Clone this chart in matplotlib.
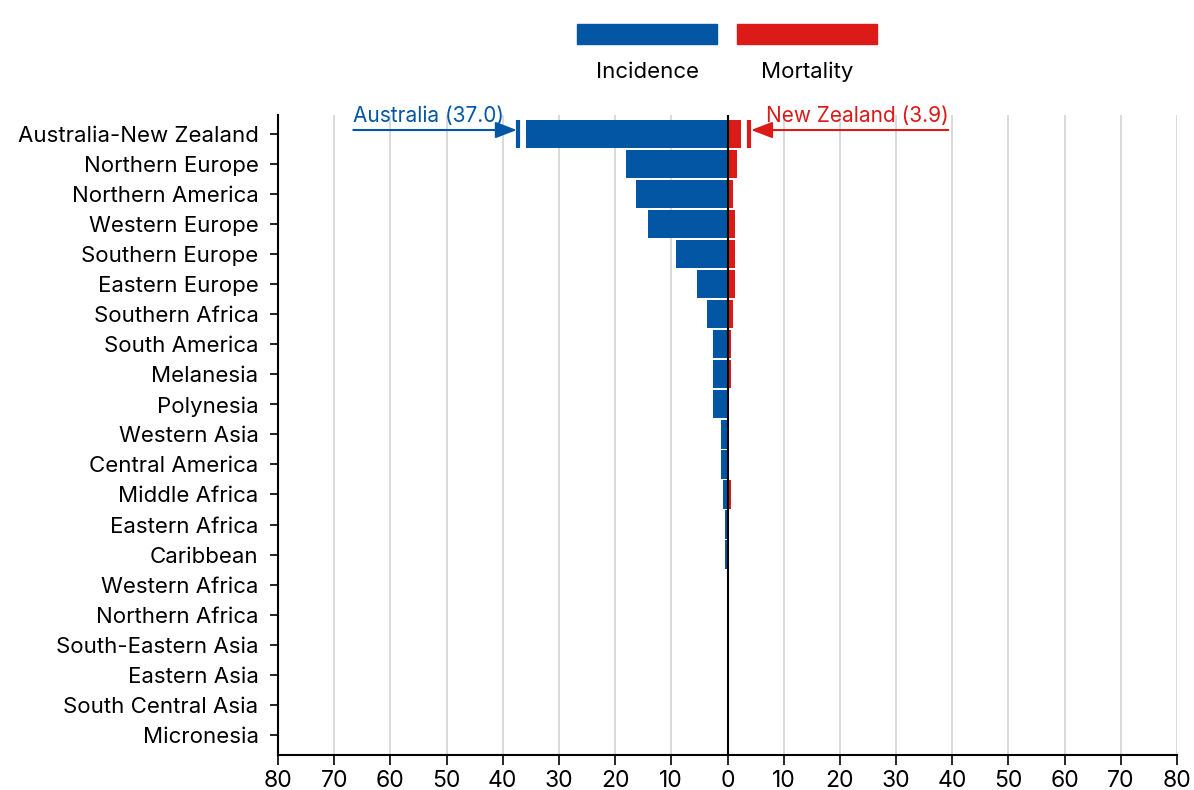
import matplotlib
matplotlib.use("Agg")
import matplotlib.pyplot as plt
from matplotlib.patches import Rectangle
import numpy as np

plt.rcParams['font.family'] = ['Inter', 'DejaVu Sans']

regions = ["Australia-New Zealand", "Northern Europe", "Northern America", "Western Europe",
           "Southern Europe", "Eastern Europe", "Southern Africa", "South America", "Melanesia",
           "Polynesia", "Western Asia", "Central America", "Middle Africa", "Eastern Africa",
           "Caribbean", "Western Africa", "Northern Africa", "South-Eastern Asia", "Eastern Asia",
           "South Central Asia", "Micronesia"]
incidence = [35.9, 18.0, 16.2, 14.1, 9.1, 5.5, 3.7, 2.6, 2.6, 2.6, 1.2, 1.2, 0.8, 0.5, 0.5,
             0, 0, 0, 0, 0, 0]
mortality = [2.4, 1.7, 0.9, 1.3, 1.3, 1.3, 0.95, 0.6, 0.6, 0, 0, 0, 0.6, 0, 0,
             0, 0, 0, 0, 0, 0]
australia_value = 37.0
nz_value = 3.9
xticks = list(range(-80, 81, 10))

BLUE = "#0356a3"
RED = "#dc1a17"

W, H = 1194, 790
fig = plt.figure(figsize=(W / 100, H / 100), dpi=100)
ax = fig.add_axes([278 / W, 1 - 755 / H, (1177 - 278) / W, (755 - 115) / H])

y = np.arange(len(regions))
ax.barh(y, [-v for v in incidence], height=0.94, color=BLUE, zorder=2)
ax.barh(y, mortality, height=0.94, color=RED, zorder=2)

ax.set_xlim(-80, 80)
ax.set_ylim(20.67, -0.63)
ax.set_yticks(y)
ax.set_yticklabels(regions, fontsize=16)
ax.set_xticks(xticks)
ax.set_xticklabels([str(abs(t)) for t in xticks], fontsize=16.5)
ax.grid(axis='x', color='#d3d3d3', linewidth=1.2, zorder=0)
ax.set_axisbelow(True)
ax.axvline(0, color='black', linewidth=1.5, zorder=3)
for s in ['top', 'right']:
    ax.spines[s].set_visible(False)
for s in ['left', 'bottom']:
    ax.spines[s].set_linewidth(1.5)
ax.tick_params(axis='y', length=6, width=1.2, pad=8)
ax.tick_params(axis='x', length=7, width=1.2, pad=4)

# markers for individual country values
ax.plot([-australia_value - 0.2] * 2, [-0.47, 0.47], color=BLUE, linewidth=3, solid_capstyle='butt', zorder=4)
ax.plot([nz_value - 0.1] * 2, [-0.47, 0.47], color=RED, linewidth=3, solid_capstyle='butt', zorder=4)

# annotation arrows
ax.annotate("", xy=(-australia_value - 0.5, -0.13), xytext=(-66.6, -0.13),
            arrowprops=dict(arrowstyle="-|>,head_length=1.3,head_width=0.5", color=BLUE, lw=1.5,
                            shrinkA=0, shrinkB=0), zorder=4)
ax.annotate("", xy=(nz_value + 0.3, -0.13), xytext=(39.3, -0.13),
            arrowprops=dict(arrowstyle="-|>,head_length=1.3,head_width=0.5", color=RED, lw=1.5,
                            shrinkA=0, shrinkB=0), zorder=4)
ax.text(-66.6, -0.28, f"Australia ({australia_value:.1f})", color=BLUE, fontsize=15,
        ha='left', va='bottom', zorder=5)
ax.text(39.3, -0.28, f"New Zealand ({nz_value:.1f})", color=RED, fontsize=15,
        ha='right', va='bottom', zorder=5)

# legend
fig.patches.append(Rectangle((577 / W, 1 - 44 / H), 140 / W, 20 / H, transform=fig.transFigure,
                             color=BLUE))
fig.patches.append(Rectangle((737 / W, 1 - 44 / H), 140 / W, 20 / H, transform=fig.transFigure,
                             color=RED))
fig.text(647 / W, 1 - 72 / H, "Incidence", ha='center', va='center', fontsize=16)
fig.text(807 / W, 1 - 72 / H, "Mortality", ha='center', va='center', fontsize=16)

fig.savefig("out.png", dpi=100)
